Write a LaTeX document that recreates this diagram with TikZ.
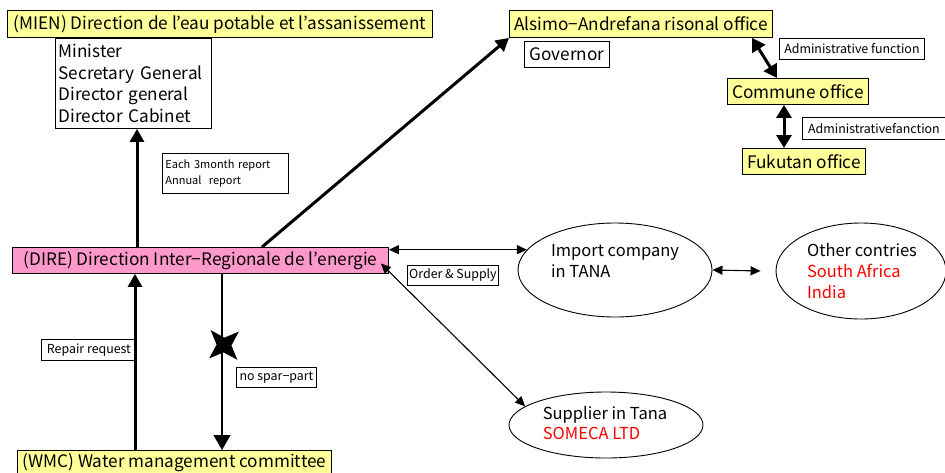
\documentclass[tikz,border=0pt]{standalone}
\usepackage{fontspec}
\setmainfont{Noto Sans CJK JP}
\usetikzlibrary{arrows.meta,shapes.geometric}

\definecolor{boxyellow}{HTML}{FFFF99}
\definecolor{boxpink}{HTML}{FF99CC}

\begin{document}
\begin{tikzpicture}[x=1pt,y=-1pt,
  box/.style={draw, line width=0.9pt, anchor=north west, inner sep=0pt, align=left},
  size/.style 2 args={minimum width=#1pt, minimum height=#2pt},
  big/.style={font=\fontsize{17.2}{21.4}\selectfont},
  mid/.style={font=\fontsize{16.5}{20.8}\selectfont},
  small/.style={font=\fontsize{12.4}{16}\selectfont},
  tiny/.style={font=\fontsize{11}{16}\selectfont},
  title/.style={box, big, fill=boxyellow},
  ell/.style={draw, ellipse, line width=0.9pt, inner sep=0pt},
  thick arrow/.style={line width=3pt, -{Triangle[length=13pt,width=14pt]}},
  thick both/.style={line width=3pt, {Triangle[length=13pt,width=15pt]}-{Triangle[length=13pt,width=15pt]}},
  thin arrow/.style={line width=1.1pt, -{Triangle[length=15pt,width=17pt]}},
  thin both/.style={line width=1.1pt, {Triangle[length=10pt,width=9pt]}-{Triangle[length=10pt,width=9pt]}},
]
\useasboundingbox (0,0) rectangle (945,472);

% offices and labels
\node[title, size={425}{27}] (mien) at (7,10) {(MIEN) Direction de l’eau potable et l’assanissement};
\node[box, big, text width=150pt, minimum height=90pt, inner xsep=3pt] (staff) at (55,38)
  {Minister\\Secretary General\\Director general\\Director Cabinet};
\node[box, tiny, text width=120pt, minimum height=40pt, inner xsep=3pt] (report) at (162,153)
  {Each 3month report\\Annual\ \ report};
\node[box, big, fill=boxpink, size={376}{26}] (dire) at (12,247) {(DIRE) Direction Inter−Regionale de l’energie};
\node[title, size={263}{27}] (alsimo) at (509,10) {Alsimo−Andrefana risonal office};
\node[box, big, size={85}{26}] (gov) at (524,41) {Governor};
\node[title, size={141}{26}] (commune) at (727,78) {Commune office};
\node[title, size={123}{26}] (fukutan) at (742,148) {Fukutan office};
\node[box, small, size={145}{21}] (adm1) at (779,38) {Administrative function};
\node[box, small, size={143}{22}] (adm2) at (802,117) {Administrativefanction};
\node[box, small, size={91}{20}] (order) at (407,265) {Order \& Supply};
\node[box, small, size={95}{21}] (repair) at (41,339) {Repair request};
\node[box, small, size={80}{20}] (spare) at (236,367) {no spar−part};
\node[title, size={314}{25}] (wmc) at (17,450) {(WMC) Water management committee};

% companies
\node[ell, minimum width=194pt, minimum height=94pt] (imp) at (615,270) {};
\node[mid, align=left] (impt) at (615,261) {Import company\\in TANA};
\node[ell, minimum width=170pt, minimum height=96pt] (oth) at (861,271) {};
\node[mid, align=left] (otht) at (862,271) {Other contries\\\textcolor{red}{South Africa}\\\textcolor{red}{India}};
\node[ell, minimum width=194pt, minimum height=66pt] (sup) at (606,425) {};
\node[mid, align=left] (supt) at (605,423) {Supplier in Tana\\\textcolor{red}{SOMECA LTD}};

% connectors
\draw[thick arrow] (137,0 |- dire.north) -- (137,0 |- staff.south);
\draw[thick arrow] (262,0 |- dire.north) -- (alsimo.south west);
\draw[thick both] (752,0 |- alsimo.south) -- (777,0 |- commune.north);
\draw[thick both] (784,0 |- commune.south) -- (784,0 |- fukutan.north);
\draw[thin both] (dire.east |- imp.167) -- (imp.167);
\draw[thin both] (imp.east) -- ([xshift=-15pt]oth.west);
\draw[thin both] ([xshift=-8pt,yshift=-3pt]dire.east) -- (sup.167);
\draw[thin arrow] (222,0 |- dire.south) -- (222,0 |- wmc.north);
\draw[thick arrow] (135,0 |- wmc.north) -- (135,0 |- dire.south);

% blocked supply mark
\node[star, star points=4, star point ratio=2.7, fill, minimum size=40pt, inner sep=0pt,
  shape border rotate=42] (nogo) at (224,345) {};
\end{tikzpicture}
\end{document}
